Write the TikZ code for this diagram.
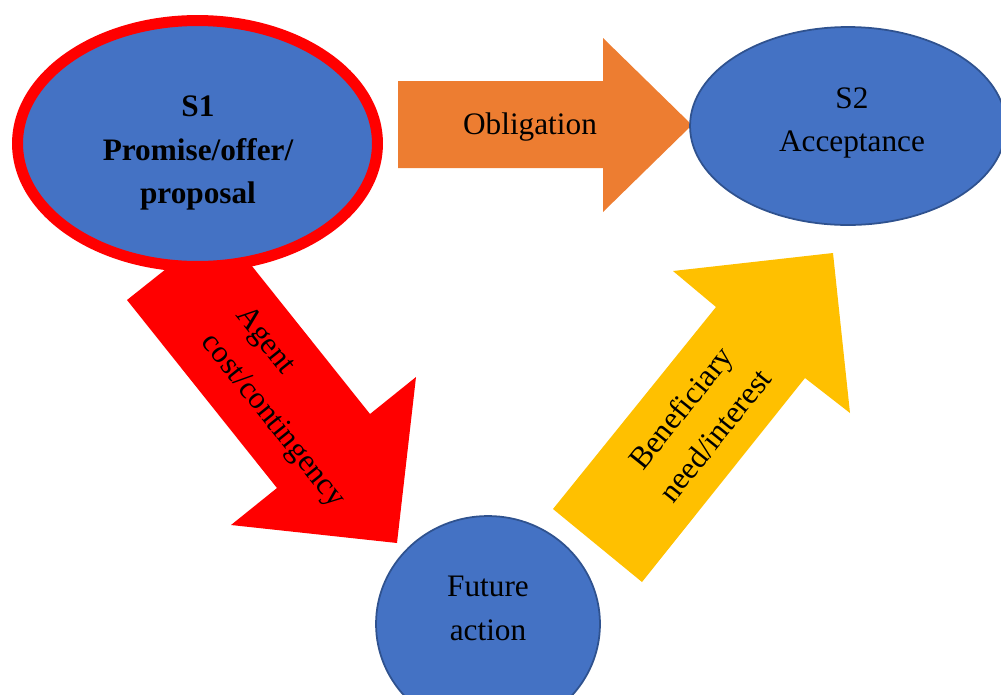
\documentclass[tikz,border=0pt]{standalone}
\usepackage{fontspec}
\setmainfont{Liberation Serif}
\usetikzlibrary{positioning}
\usetikzlibrary{shapes.geometric}

\definecolor{stateblue}{HTML}{4472C4}
\definecolor{stateedge}{HTML}{2F528F}
\definecolor{obligorange}{HTML}{ED7D31}
\definecolor{agentred}{HTML}{FF0000}
\definecolor{benefyellow}{HTML}{FFC000}

\tikzset{
	state/.style={ellipse,fill=stateblue,draw=stateedge,line width=1pt,inner sep=0pt},
	txt/.style={font=\fontsize{17.8}{25}\selectfont,align=center,inner sep=0pt},
	boldtxt/.style={txt,font=\fontsize{17.8}{25}\selectfont\bfseries},
}

\begin{document}
\begin{tikzpicture}[x=0.02cm,y=-0.02cm]
				\useasboundingbox (0,0) rectangle (1001,694);
				\clip (0,0) rectangle (1001,694);
				% block arrows
				\fill[agentred] (127,300) -- (220,226) -- (370,414) -- (416,377) -- (397,543) -- (231,525) -- (277,488) -- cycle;
				\fill[benefyellow] (553,509) -- (716,307) -- (673,271) -- (833,253) -- (850,413) -- (805,378) -- (642,582) -- cycle;
				\fill[obligorange] (398,81) -- (603,81) -- (603,38) -- (692,125) -- (603,212) -- (603,168) -- (398,168) -- cycle;
				% states
				\node[state,draw=agentred,line width=0.22cm,minimum width=7.2cm,minimum height=4.92cm](s1) at (197.5,143.5) {};
				\node[state,minimum width=6.32cm,minimum height=3.96cm](s2) at (848,126) {};
				\node[state,minimum width=4.48cm,minimum height=4.32cm](future) at (488,624) {};
				% labels
				\node[boldtxt](s1text) at (198,153) {S1\\Promise/offer/\\proposal};
				\node[txt](s2text) at (852,123) {S2\\Acceptance};
				\node[txt](futuretext) at (488,608) {Future\\action};
				\node[txt](obligation) at (530,127) {Obligation};
				\node[txt,align=left,rotate=-51.4](agent) at (289.5,407.7) {Agent\\cost/contingency};
				\node[txt,rotate=51.3](beneficiary) at (697.5,421.3) {Beneficiary\\need/interest};
\end{tikzpicture}
\end{document}
